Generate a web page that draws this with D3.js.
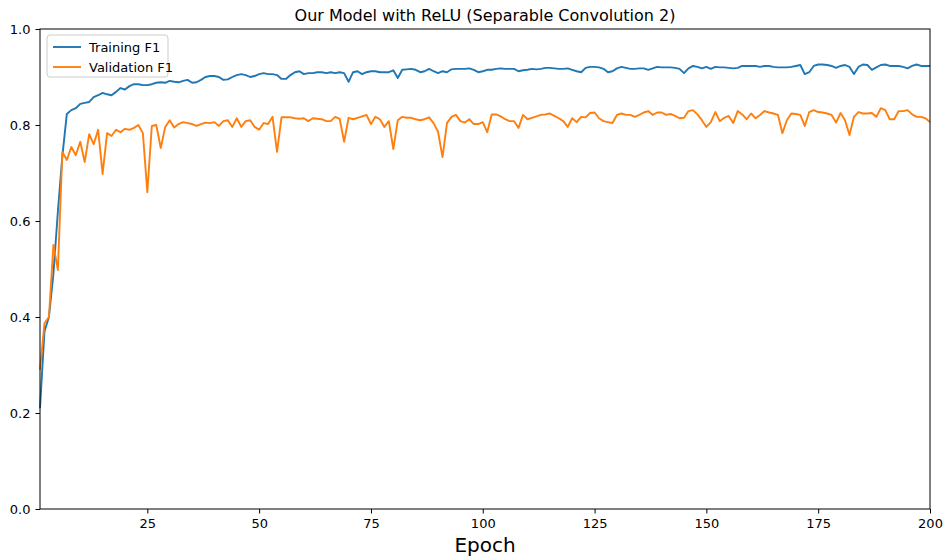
<!DOCTYPE html>
<html><head><meta charset="utf-8">
<script src="https://cdn.jsdelivr.net/npm/d3@7"></script>
<style>body{margin:0;background:#fff}svg{display:block}text{font-family:"DejaVu Sans",sans-serif;fill:#000}</style>
</head><body><svg id="c" width="943" height="559"></svg>
<script>
const title = "Our Model with ReLU (Separable Convolution 2)";
const xLabel = "Epoch";
const seriesNames = ["Training F1", "Validation F1"];
const xTicks = [25, 50, 75, 100, 125, 150, 175, 200];
const yTicks = [0, 0.2, 0.4, 0.6, 0.8, 1.0];
const trainingF1 = [
0.21,0.37,0.40,0.49,0.62,0.735,0.823,0.831,0.835,0.844,
0.846,0.848,0.858,0.862,0.867,0.864,0.862,0.869,0.877,0.874,
0.881,0.885,0.885,0.883,0.883,0.885,0.888,0.889,0.888,0.892,
0.890,0.889,0.892,0.894,0.888,0.889,0.894,0.900,0.902,0.902,
0.900,0.894,0.895,0.900,0.904,0.906,0.904,0.900,0.902,0.906,
0.908,0.906,0.906,0.904,0.896,0.896,0.904,0.910,0.912,0.906,
0.908,0.908,0.910,0.910,0.908,0.910,0.908,0.910,0.908,0.890,
0.910,0.912,0.906,0.910,0.912,0.912,0.910,0.910,0.910,0.914,
0.898,0.915,0.916,0.917,0.915,0.910,0.912,0.917,0.912,0.908,
0.912,0.910,0.916,0.917,0.917,0.917,0.918,0.915,0.910,0.912,
0.915,0.915,0.917,0.918,0.917,0.917,0.917,0.912,0.914,0.915,
0.917,0.916,0.917,0.919,0.919,0.918,0.917,0.917,0.918,0.915,
0.912,0.910,0.919,0.921,0.921,0.920,0.917,0.910,0.912,0.918,
0.921,0.919,0.917,0.917,0.918,0.918,0.915,0.918,0.921,0.920,
0.920,0.920,0.919,0.917,0.908,0.918,0.923,0.921,0.918,0.921,
0.917,0.921,0.920,0.920,0.919,0.918,0.919,0.923,0.923,0.923,
0.923,0.921,0.923,0.923,0.921,0.920,0.920,0.920,0.921,0.923,
0.925,0.906,0.910,0.923,0.926,0.926,0.925,0.923,0.919,0.923,
0.925,0.921,0.906,0.921,0.926,0.925,0.915,0.920,0.925,0.926,
0.923,0.923,0.923,0.921,0.918,0.923,0.926,0.923,0.923,0.923];
const validationF1 = [
0.29,0.387,0.40,0.55,0.498,0.744,0.727,0.754,0.737,0.765,
0.723,0.781,0.760,0.790,0.698,0.783,0.777,0.790,0.785,0.792,
0.790,0.794,0.800,0.783,0.660,0.798,0.800,0.752,0.796,0.810,
0.795,0.802,0.806,0.804,0.802,0.798,0.802,0.805,0.804,0.806,
0.798,0.808,0.810,0.796,0.814,0.796,0.808,0.810,0.796,0.790,
0.804,0.802,0.817,0.744,0.816,0.816,0.816,0.814,0.813,0.814,
0.808,0.814,0.813,0.812,0.808,0.808,0.817,0.813,0.765,0.815,
0.812,0.815,0.818,0.821,0.802,0.817,0.812,0.796,0.808,0.750,
0.810,0.817,0.815,0.815,0.812,0.810,0.812,0.816,0.804,0.786,
0.733,0.804,0.817,0.821,0.808,0.805,0.812,0.802,0.802,0.806,
0.785,0.822,0.822,0.818,0.812,0.808,0.808,0.794,0.821,0.812,
0.815,0.818,0.821,0.822,0.824,0.819,0.814,0.808,0.796,0.814,
0.806,0.817,0.816,0.825,0.826,0.814,0.808,0.806,0.804,0.821,
0.824,0.821,0.821,0.817,0.821,0.826,0.829,0.821,0.826,0.826,
0.821,0.823,0.819,0.814,0.815,0.829,0.831,0.822,0.810,0.796,
0.806,0.827,0.808,0.815,0.819,0.804,0.829,0.822,0.812,0.824,
0.814,0.821,0.829,0.826,0.824,0.821,0.783,0.810,0.824,0.823,
0.821,0.798,0.827,0.831,0.827,0.826,0.824,0.821,0.805,0.825,
0.810,0.779,0.817,0.827,0.824,0.824,0.825,0.817,0.835,0.831,
0.812,0.812,0.829,0.829,0.831,0.822,0.817,0.817,0.814,0.806];
const colors = ["#1f77b4", "#ff7f0e"];

const svg = d3.select("#c");
const L = 40, R = 930, T = 29, B = 509;
const epochs = d3.range(1, trainingF1.length + 1);
const x = d3.scaleLinear().domain([1, 200]).range([L, R]);
const y = d3.scaleLinear().domain([0, 1]).range([B, T]);

const line = d3.line().x((d, i) => x(epochs[i])).y(d => y(d));
[trainingF1, validationF1].forEach((s, k) => {
  svg.append("path").datum(s).attr("d", line).attr("fill", "none")
    .attr("stroke", colors[k]).attr("stroke-width", 1.9).attr("stroke-linejoin", "round");
});

const xa = svg.append("g").attr("transform", `translate(0,${B})`)
  .call(d3.axisBottom(x).tickValues(xTicks).tickSize(4.5).tickPadding(5).tickFormat(d3.format("d")));
const ya = svg.append("g").attr("transform", `translate(${L},0)`)
  .call(d3.axisLeft(y).tickValues(yTicks).tickSize(4.5).tickPadding(5).tickFormat(d3.format(".1f")));
[xa, ya].forEach(a => {
  a.select(".domain").remove();
  a.selectAll("text").attr("font-size", 13).attr("font-family", "DejaVu Sans");
  a.selectAll("line").attr("stroke", "#000").attr("stroke-width", 1);
});
svg.append("rect").attr("x", L).attr("y", T).attr("width", R - L).attr("height", B - T)
  .attr("fill", "none").attr("stroke", "#000").attr("stroke-width", 1);

svg.append("text").attr("x", (L + R) / 2).attr("y", 21).attr("text-anchor", "middle")
  .attr("font-size", 16).text(title);
svg.append("text").attr("x", (L + R) / 2).attr("y", 552).attr("text-anchor", "middle")
  .attr("font-size", 20).text(xLabel);

const lg = svg.append("g");
lg.append("rect").attr("x", 47).attr("y", 35).attr("width", 121).attr("height", 42)
  .attr("rx", 3).attr("fill", "#fff").attr("fill-opacity", 0.8).attr("stroke", "#ccc");
seriesNames.forEach((n, k) => {
  const yy = 47 + k * 20;
  lg.append("line").attr("x1", 53).attr("x2", 81).attr("y1", yy).attr("y2", yy)
    .attr("stroke", colors[k]).attr("stroke-width", 1.9);
  lg.append("text").attr("x", 89).attr("y", yy + 4.5).attr("font-size", 13).text(n);
});
</script></body></html>
